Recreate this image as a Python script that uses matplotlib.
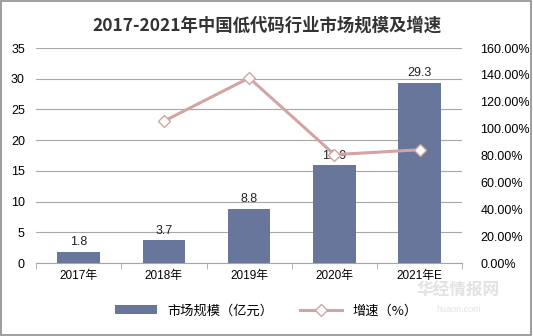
import matplotlib
matplotlib.use("Agg")
import matplotlib.pyplot as plt
import numpy as np
from matplotlib.patches import Rectangle

plt.rcParams["font.family"] = ["Liberation Sans", "Noto Sans CJK SC", "DejaVu Sans"]

years = ["2017年", "2018年", "2019年", "2020年", "2021年E"]
market_size = [1.8, 3.7, 8.8, 15.9, 29.3]
growth = [None, 105.6, 137.8, 80.7, 84.3]

BAR_COLOR = "#67769a"
LINE_COLOR = "#d4a4a4"
GRID_COLOR = "#a6a6a6"

fig = plt.figure(figsize=(5.33, 3.36), dpi=100)
fig.patches.append(Rectangle((0.002, 0.004), 0.995, 0.992, transform=fig.transFigure,
                             fill=False, edgecolor="#8c8c8c", linewidth=1.2))

ax = fig.add_axes([0.0675, 0.217, 0.80, 0.64])
x = np.arange(len(years))
bars = ax.bar(x, market_size, width=0.5, color=BAR_COLOR, zorder=2)
for xi, v in zip(x, market_size):
    ax.text(xi, v + 0.6, f"{v}", ha="center", va="bottom", fontsize=9, color="#222222", zorder=5)

ax.set_ylim(0, 35)
ax.set_yticks(np.arange(0, 36, 5))
ax.set_xlim(-0.5, len(years) - 0.5)
ax.set_xticks(x)
ax.set_xticklabels(years, fontsize=8.5)
ax.set_xticks(np.arange(-0.5, len(years), 1), minor=True)
ax.tick_params(axis="x", which="major", length=0, pad=5)
ax.tick_params(axis="x", which="minor", length=4, color=GRID_COLOR)
ax.tick_params(axis="y", length=0, labelsize=9, pad=8)
ax.grid(axis="y", color=GRID_COLOR, linewidth=0.8, zorder=0)
for s in ["top", "right", "left"]:
    ax.spines[s].set_visible(False)
ax.spines["bottom"].set_color(GRID_COLOR)

ax2 = ax.twinx()
gx = [xi for xi, g in zip(x, growth) if g is not None]
gy = [g for g in growth if g is not None]
ax2.plot(gx, gy, color=LINE_COLOR, linewidth=2.2, marker="D", markersize=6,
         markerfacecolor="white", markeredgecolor=LINE_COLOR, markeredgewidth=1, zorder=4)
ax2.set_ylim(0, 160)
ax2.set_yticks(np.arange(0, 161, 20))
ax2.set_yticklabels([f"{v:.2f}%" for v in np.arange(0, 161, 20)], fontsize=9)
ax2.tick_params(axis="y", length=0, pad=13)
for s in ["top", "right", "left", "bottom"]:
    ax2.spines[s].set_visible(False)

fig.text(0.5, 0.925, "2017-2021年中国低代码行业市场规模及增速", ha="center", va="center",
         fontsize=12.5, fontweight="bold", color="#333333",
         family=["Noto Sans CJK SC", "DejaVu Sans"])

handles = [bars, ax2.get_lines()[0]]
fig.legend(handles, ["市场规模（亿元）", "增速（%）"], loc="center", bbox_to_anchor=(0.5, 0.075),
           ncol=2, frameon=False, handlelength=3.2, columnspacing=2.0,
           prop={"family": ["Noto Sans CJK SC", "DejaVu Sans"], "size": 9.5})

# watermark
fig.text(0.86, 0.118, "华经情报网", fontsize=12, color="#e2e2e2", fontweight="bold", ha="center",
         zorder=0, family=["Noto Sans CJK SC"])
fig.text(0.86, 0.07, "huaon.com", fontsize=6.5, color="#e2e2e2", ha="center", zorder=0)

fig.savefig("out.png", dpi=100)
